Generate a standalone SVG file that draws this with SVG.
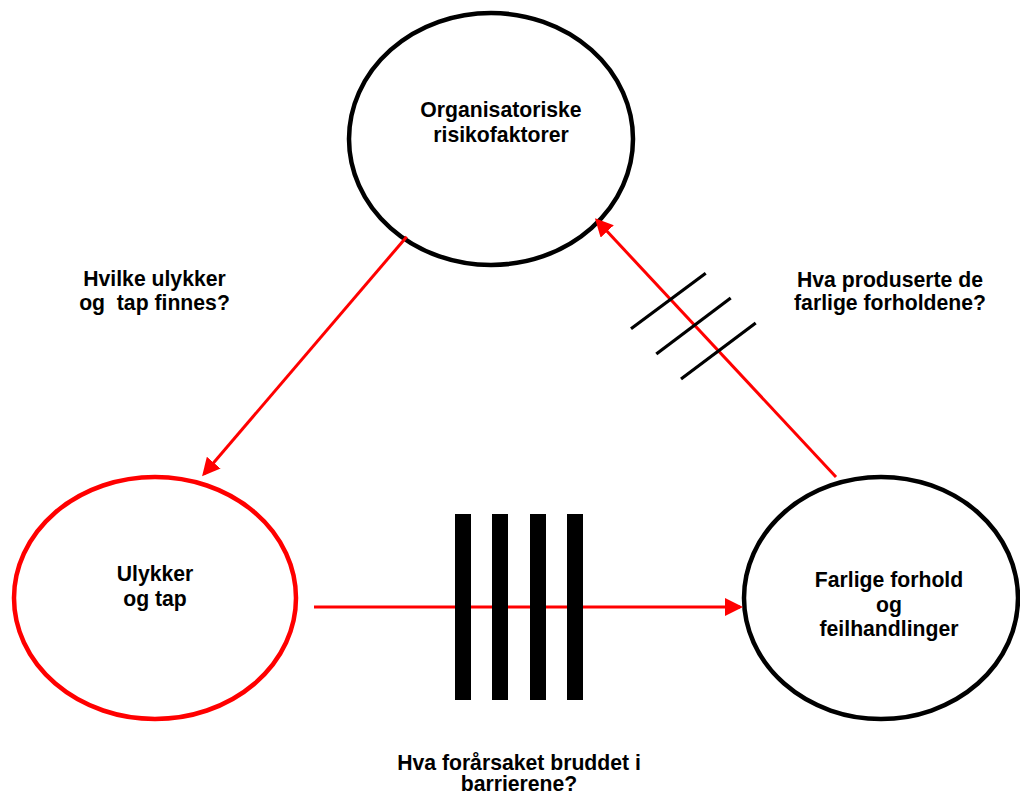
<svg xmlns="http://www.w3.org/2000/svg" width="1020" height="794" viewBox="0 0 1020 794">
<style>
.t{font-family:"Liberation Sans",Arial,sans-serif;font-weight:bold;font-size:21.2px;fill:#000;text-anchor:middle}
.nb{fill:#fff;stroke:#000;stroke-width:4.5}
.nr{fill:#fff;stroke:#f00;stroke-width:4.5}
.c{stroke:#f00;stroke-width:3;fill:none}
.tick{stroke:#000;stroke-width:3.2}
</style>
<defs>
<marker id="ah" markerWidth="6" markerHeight="6" refX="5" refY="3" orient="auto" markerUnits="strokeWidth">
<path d="M0,0 L6,3 L0,6 Z" fill="#f00"/>
</marker>
</defs>
<rect width="1020" height="794" fill="#fff"/>
<g id="node-org">
<ellipse class="nb" cx="491" cy="139" rx="142" ry="126"/>
<text class="t" x="501" y="117">Organisatoriske</text>
<text class="t" x="501" y="142">risikofaktorer</text>
</g>
<g id="node-ulykker">
<ellipse class="nr" cx="155" cy="598" rx="141" ry="121"/>
<text class="t" x="155" y="581">Ulykker</text>
<text class="t" x="155" y="606">og tap</text>
</g>
<g id="node-farlige">
<ellipse class="nb" cx="881" cy="598" rx="137" ry="121"/>
<text class="t" x="889" y="587">Farlige forhold</text>
<text class="t" x="889" y="612">og</text>
<text class="t" x="889" y="636">feilhandlinger</text>
</g>
<g id="connectors">
<line class="c" x1="406.7" y1="236.7" x2="204" y2="474" marker-end="url(#ah)"/>
<line class="c" x1="836" y1="477" x2="597" y2="220.5" marker-end="url(#ah)"/>
<line class="c" x1="314" y1="607" x2="740" y2="607" marker-end="url(#ah)"/>
</g>
<g id="barriers">
<rect x="455" y="514" width="16" height="186" fill="#000"/>
<rect x="492" y="514" width="16" height="186" fill="#000"/>
<rect x="530" y="514" width="16" height="186" fill="#000"/>
<rect x="567" y="514" width="16" height="186" fill="#000"/>
<line class="tick" x1="631" y1="328.7" x2="705.7" y2="273.3"/>
<line class="tick" x1="656.3" y1="354" x2="730.7" y2="298"/>
<line class="tick" x1="681" y1="379" x2="755.7" y2="323"/>
</g>
<g id="labels">
<text class="t" x="154.5" y="286">Hvilke ulykker</text>
<text class="t" x="154.5" y="310" xml:space="preserve">og  tap finnes?</text>
<text class="t" x="890" y="287">Hva produserte de</text>
<text class="t" x="890" y="310">farlige forholdene?</text>
<text class="t" x="519" y="770">Hva forårsaket bruddet i</text>
<text class="t" x="519" y="791">barrierene?</text>
</g>
</svg>
